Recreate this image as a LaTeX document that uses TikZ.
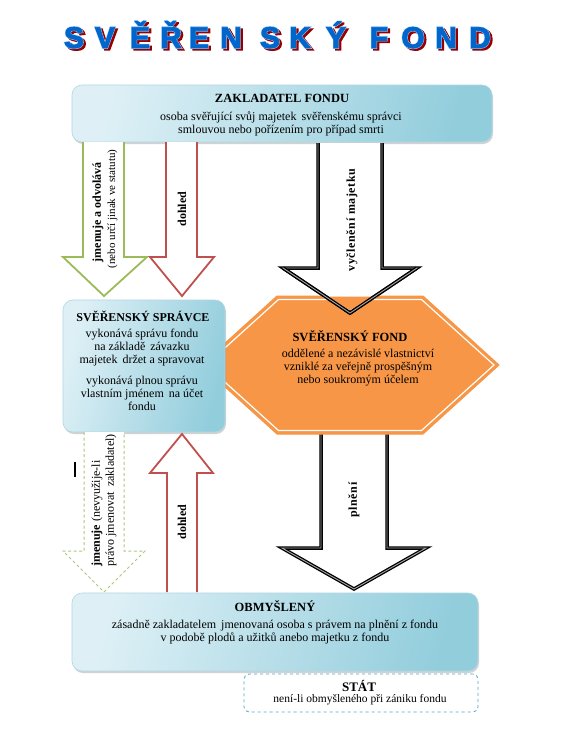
\documentclass[tikz,border=0pt]{standalone}
\usepackage{fontspec}
\setmainfont{Liberation Serif}
\newfontfamily\titlemain[FakeBold=2.5]{Liberation Sans Bold}
\newfontfamily\titlethick[FakeBold=6]{Liberation Sans Bold}
\usetikzlibrary{shadows}
\definecolor{titleblue}{RGB}{0,102,204}
\definecolor{titleshade}{RGB}{150,0,0}
\definecolor{titleline}{RGB}{160,205,250}
\definecolor{boxlight}{RGB}{222,240,246}
\definecolor{boxdark}{RGB}{146,205,220}
\definecolor{boxedge}{RGB}{175,215,228}
\definecolor{greenc}{RGB}{155,187,89}
\definecolor{redc}{RGB}{192,80,77}
\definecolor{orangec}{RGB}{247,150,70}
\definecolor{statc}{RGB}{75,172,198}
\tikzset{
  bluebox/.style={draw=boxedge, line width=0.6pt, rounded corners=10pt,
    left color=boxlight, right color=boxdark, shading angle=75,
    drop shadow={opacity=0.35, shadow xshift=1pt, shadow yshift=-2pt}},
  txt/.style={font=\fontsize{12}{13}\selectfont, align=center, inner sep=0pt},
  hd/.style={font=\fontsize{12.5}{14}\selectfont\bfseries, inner sep=0pt},
  vlab/.style={font=\fontsize{12}{13}\selectfont\bfseries, rotate=90, inner sep=0pt},
  tletter/.style={font=\titlemain\fontsize{30}{30}\selectfont, anchor=base, inner sep=0pt},
  tletterthick/.style={font=\titlethick\fontsize{30}{30}\selectfont, anchor=base, inner sep=0pt},
  greenarrow/.style={draw=greenc, line width=1.8pt, fill=white, line join=miter},
  redarrow/.style={draw=redc, line width=1.8pt, fill=white, line join=miter},
  blackarrow/.style={draw=black, line width=1.3pt, double=gray!70, double distance=0.9pt, line join=miter},
}
\begin{document}
\begin{tikzpicture}[x=1pt,y=-1pt]
\useasboundingbox[fill=white] (0,0) rectangle (580,740);

% title
\foreach \ch/\xx in {S/74,V/105,Ě/140,Ř/171,E/199,N/231,S/270,K/300,Ý/336,F/379,O/413,N/446,D/480}{
  \node[tletterthick, text=titleshade] at (\xx+2.2,49.8) {\ch};
  \node[tletterthick, text=titleline] at (\xx,48) {\ch};
  \node[tletter, text=titleblue] at (\xx,48) {\ch};
}

% zakladatel
\node[bluebox, minimum width=420pt, minimum height=57pt] (zak) at (282,113.5) {};
\node[hd] (zakh) at (282,98) {ZAKLADATEL FONDU};
\node[txt] (zakt) at (281,123.5) {osoba svěřující svůj majetek\, svěřenskému správci\\smlouvou nebo pořízením pro případ smrti};

% arrows from zakladatel
\draw[greenarrow] (83,142) -- (83,257) -- (63,257) -- (104,296) -- (147,257) -- (124,257) -- (124,142);
\draw[redarrow] (166,142) -- (166,257) -- (150,257) -- (182,296) -- (214,257) -- (197,257) -- (197,142);
\node[vlab, align=center] (g1a) at (98,212) {jmenuje a odvolává};
\node[rotate=90, inner sep=0pt, font=\fontsize{11}{12}\selectfont] (g1b) at (112.5,209) {(nebo určí jinak ve statutu)};
\node[vlab] (doh1) at (182,209) {dohled};

% plneni arrow (under hexagon)
\draw[blackarrow, fill=white] (321,428) -- (321,548) -- (282,548) -- (354,589) -- (426,548) -- (387,548) -- (387,428);

% hexagon
\path[fill=orangec, draw=orangec, line width=1pt] (277,296) -- (423,296) -- (499,365) -- (423,434) -- (277,434) -- (201,365) -- cycle;
\draw[white, line width=1.2pt] (278.5,299.5) -- (421.5,299.5) -- (494,365) -- (421.5,430.5) -- (278.5,430.5) -- (206,365) -- cycle;
\node[hd] (fondh) at (350,336) {SVĚŘENSKÝ FOND};
\node[txt] (fondt) at (358,367.5) {oddělené a nezávislé vlastnictví\\vzniklé za veřejně prospěšným\\nebo soukromým účelem};

% vycleneni arrow
\draw[blackarrow, fill=white] (318,143) -- (318,268) -- (283,268) -- (350,313) -- (417,268) -- (382,268) -- (382,143);
\path[fill=orangec] (320.5,296.5) -- (379.5,296.5) -- (350,310) -- cycle;
\draw[blackarrow] (283,268) -- (350,313) -- (417,268);
\node[vlab, font=\fontsize{12}{13}\selectfont\bfseries\addfontfeature{LetterSpace=5}] (vycl) at (352,220) {vyčlenění majetku};
\node[vlab, font=\fontsize{12}{13}\selectfont\bfseries\addfontfeature{LetterSpace=5}] (pln) at (354,500) {plnění};

% spravce
\node[bluebox, minimum width=162pt, minimum height=132pt] (spr) at (144,366) {};
\node[hd, font=\fontsize{12}{14}\selectfont\bfseries] (sprh) at (143,316) {SVĚŘENSKÝ SPRÁVCE};
\node[txt] (sprt1) at (142,348) {vykonává správu fondu\\na základě\, závazku\\majetek\, držet a spravovat};
\node[txt] (sprt2) at (142,393.5) {vykonává plnou správu\\vlastním jménem\, na účet\\fondu};

% lower arrows
\draw[greenc!80, line width=1pt, dashed, dash pattern=on 3pt off 2.5pt, fill=white] (84,432) -- (84,551) -- (63,551) -- (104,592) -- (145,551) -- (124,551) -- (124,432);
\draw[redarrow] (167,592) -- (167,473) -- (150,473) -- (182,434) -- (213,473) -- (197,473) -- (197,592);
\node[rotate=90, anchor=west, inner sep=0pt, align=left, font=\fontsize{12}{14}\selectfont] (g2) at (104,567) {\textbf{jmenuje} (nevyužije-li\\právo jmenovat\, zakladatel)};
\node[vlab] (doh2) at (182,522) {dohled};
\draw[line width=2pt] (75,462) -- (75,477);

% obmysleny
\node[bluebox, minimum width=406pt, minimum height=78pt] (obm) at (275,632) {};
\node[hd] (obmh) at (275,606) {OBMYŠLENÝ};
\node[txt] (obmt) at (275,632) {zásadně zakladatelem\, jmenovaná osoba s právem na plnění z fondu\\v podobě plodů a užitků anebo majetku z fondu};

% stat
\node[draw=statc, dashed, line width=0.8pt, rounded corners=5pt, minimum width=234pt, minimum height=38pt] (stat) at (361,693) {};
\node[hd, font=\fontsize{13}{14}\selectfont\bfseries] (stath) at (359,686) {STÁT};
\node[font=\fontsize{11.5}{12}\selectfont, inner sep=0pt] (statt) at (360,700) {není-li obmyšleného při zániku fondu};
\end{tikzpicture}
\end{document}
